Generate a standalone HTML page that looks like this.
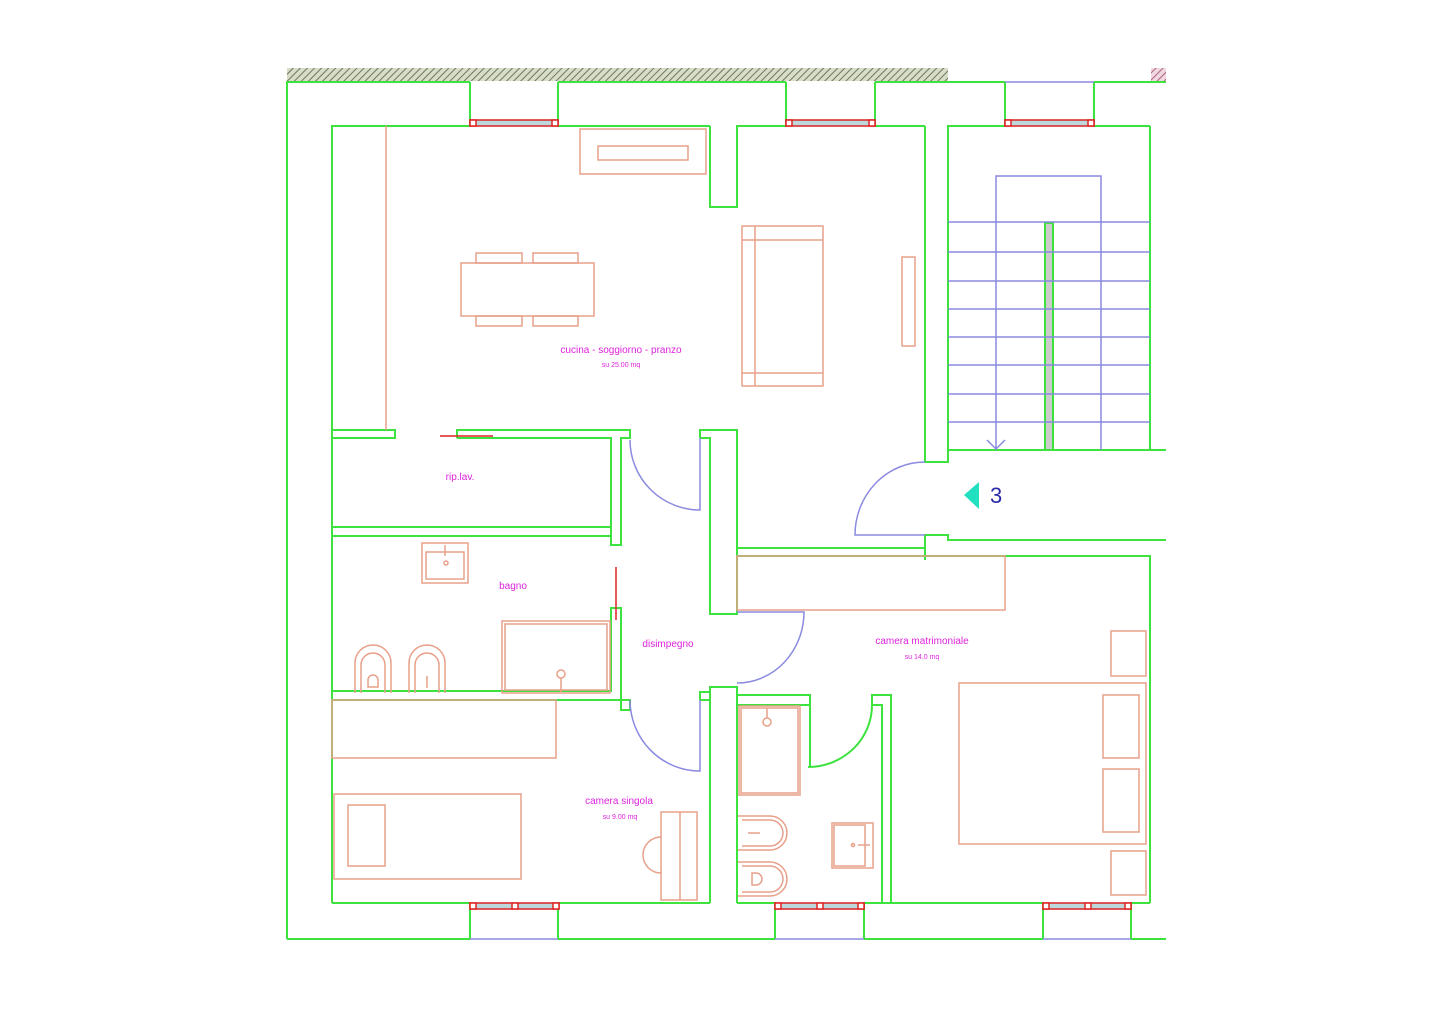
<!DOCTYPE html>
<html><head><meta charset="utf-8"><style>
html,body{margin:0;padding:0;background:#fff;}
svg{display:block;}
text{font-family:"Liberation Sans",sans-serif;}
</style></head><body>
<svg width="1440" height="1018" viewBox="0 0 1440 1018" xmlns="http://www.w3.org/2000/svg">
<defs>
<pattern id="h" width="5" height="5" patternUnits="userSpaceOnUse" patternTransform="rotate(45)">
<rect width="5" height="5" fill="#d8dcc8"/><line x1="0" y1="0" x2="0" y2="5" stroke="#6a7a5a" stroke-width="2"/></pattern>
<pattern id="h2" width="5" height="5" patternUnits="userSpaceOnUse" patternTransform="rotate(45)">
<rect width="5" height="5" fill="#f0d8e0"/><line x1="0" y1="0" x2="0" y2="5" stroke="#b06080" stroke-width="2"/></pattern>
</defs>
<rect width="1440" height="1018" fill="#fff"/>
<!-- hatch -->
<rect x="287" y="68" width="661" height="13" fill="url(#h)"/>
<rect x="1151" y="68" width="15" height="13" fill="url(#h2)"/>

<g fill="none" stroke="#3ee23e" stroke-width="2">
<!-- outer -->
<polyline points="287,939 287,82 470,82"/>
<polyline points="558,82 786,82"/>
<polyline points="875,82 1005,82"/>
<polyline points="1094,82 1166,82"/>
<line x1="287" y1="939" x2="470" y2="939"/>
<line x1="558" y1="939" x2="775" y2="939"/>
<line x1="864" y1="939" x2="1043" y2="939"/>
<line x1="1131" y1="939" x2="1166" y2="939"/>
<!-- window reveals top -->
<line x1="470" y1="82" x2="470" y2="126"/><line x1="558" y1="82" x2="558" y2="126"/>
<line x1="786" y1="82" x2="786" y2="126"/><line x1="875" y1="82" x2="875" y2="126"/>
<line x1="1005" y1="82" x2="1005" y2="126"/><line x1="1094" y1="82" x2="1094" y2="126"/>
<!-- window reveals bottom -->
<line x1="470" y1="903" x2="470" y2="939"/><line x1="558" y1="903" x2="558" y2="939"/>
<line x1="775" y1="903" x2="775" y2="939"/><line x1="864" y1="903" x2="864" y2="939"/>
<line x1="1043" y1="903" x2="1043" y2="939"/><line x1="1131" y1="903" x2="1131" y2="939"/>
<!-- inner top -->
<polyline points="332,903 332,126 470,126"/>
<line x1="558" y1="126" x2="710" y2="126"/>
<polyline points="710,126 710,207 737,207 737,126 786,126"/>
<line x1="875" y1="126" x2="925" y2="126"/>
<polyline points="925,126 925,462 948,462 948,126 1005,126"/>
<line x1="1094" y1="126" x2="1150" y2="126"/>
<polyline points="1150,126 1150,450 1166,450"/>
<line x1="948" y1="450" x2="1150" y2="450"/>
<!-- corridor -->
<polyline points="925,560 925,535 948,535 948,540 1166,540"/>
<line x1="737" y1="548" x2="925" y2="548"/>
<polyline points="737,556 1150,556 1150,903"/>
<!-- rip lav -->
<polyline points="332,430 395,430 395,438 332,438"/>
<polyline points="457,438 457,430 630,430 630,438 621,438 621,545 611,545 611,438 457,438"/>
<line x1="332" y1="527" x2="611" y2="527"/>
<line x1="332" y1="536" x2="611" y2="536"/>
<!-- bath -->
<polyline points="621,700 621,608 611,608 611,691 332,691"/>
<polyline points="332,700 630,700 630,710 621,710 621,700"/>
<!-- center wall -->
<polyline points="700,438 700,430 737,430 737,614 710,614 710,438 700,438"/>
<polyline points="700,700 700,692 710,692 710,687 737,687 737,903"/>
<line x1="710" y1="687" x2="710" y2="903"/>
<line x1="700" y1="700" x2="710" y2="700"/>
<!-- bath2 -->
<polyline points="737,695 810,695 810,767"/>
<line x1="737" y1="705" x2="810" y2="705"/>
<polyline points="872,705 872,695 891,695 891,903"/>
<polyline points="872,705 882,705 882,903"/>
<path d="M808,767 A64,62 0 0 0 872,705"/>
<!-- bottom inner -->
<line x1="332" y1="903" x2="470" y2="903"/>
<line x1="558" y1="903" x2="710" y2="903"/>
<line x1="737" y1="903" x2="775" y2="903"/>
<line x1="864" y1="903" x2="1043" y2="903"/>
<line x1="1131" y1="903" x2="1150" y2="903"/>
<!-- rail -->
<rect x="1045" y="223" width="8" height="227" fill="#cccccc"/>
</g>

<!-- windows -->
<g stroke="#dd2222" stroke-width="1.5" fill="none">
<rect x="470" y="120" width="88" height="6" fill="#bcd8dc"/><rect x="470" y="120" width="6" height="6" fill="#fff"/><rect x="552" y="120" width="6" height="6" fill="#fff"/>
<rect x="786" y="120" width="89" height="6" fill="#bcd8dc"/><rect x="786" y="120" width="6" height="6" fill="#fff"/><rect x="869" y="120" width="6" height="6" fill="#fff"/>
<rect x="1005" y="120" width="89" height="6" fill="#bcd8dc"/><rect x="1005" y="120" width="6" height="6" fill="#fff"/><rect x="1088" y="120" width="6" height="6" fill="#fff"/>
<rect x="470" y="903" width="89" height="6" fill="#bcd8dc"/><rect x="470" y="903" width="6" height="6" fill="#fff"/><rect x="512" y="903" width="6" height="6" fill="#fff"/><rect x="553" y="903" width="6" height="6" fill="#fff"/>
<rect x="775" y="903" width="89" height="6" fill="#bcd8dc"/><rect x="775" y="903" width="6" height="6" fill="#fff"/><rect x="817" y="903" width="6" height="6" fill="#fff"/><rect x="858" y="903" width="6" height="6" fill="#fff"/>
<rect x="1043" y="903" width="88" height="6" fill="#bcd8dc"/><rect x="1043" y="903" width="6" height="6" fill="#fff"/><rect x="1085" y="903" width="6" height="6" fill="#fff"/><rect x="1125" y="903" width="6" height="6" fill="#fff"/>
<line x1="440" y1="436" x2="493" y2="436"/>
<line x1="616" y1="567" x2="616" y2="620"/>
</g>

<!-- purple -->
<g stroke="#8a8ae0" stroke-width="1.5" fill="none">
<line x1="1005" y1="82" x2="1094" y2="82"/>
<line x1="470" y1="939" x2="558" y2="939"/>
<line x1="775" y1="939" x2="864" y2="939"/>
<line x1="1043" y1="939" x2="1131" y2="939"/>
<polyline points="996,450 996,176 1101,176 1101,450"/>
<line x1="948" y1="222" x2="1150" y2="222"/>
<line x1="948" y1="252" x2="1150" y2="252"/>
<line x1="948" y1="281" x2="1150" y2="281"/>
<line x1="948" y1="309" x2="1150" y2="309"/>
<line x1="948" y1="337" x2="1150" y2="337"/>
<line x1="948" y1="365" x2="1150" y2="365"/>
<line x1="948" y1="394" x2="1150" y2="394"/>
<line x1="948" y1="422" x2="1150" y2="422"/>
<polyline points="987,440 996,449 1005,440"/>
<!-- doors -->
<path d="M630,440 A70,70 0 0 0 700,510 L700,438"/>
<path d="M630,700 A70,71 0 0 0 700,771 L700,700"/>
<path d="M737,683 A67,71 0 0 0 804,612 L737,612"/>
<path d="M925,462 A70,73 0 0 0 855,535 L925,535"/>
</g>

<!-- furniture -->
<g stroke="#e8a08a" stroke-width="1.5" fill="none">
<line x1="386" y1="126" x2="386" y2="430"/>
<rect x="580" y="129" width="126" height="45"/>
<rect x="598" y="146" width="90" height="14"/>
<rect x="461" y="263" width="133" height="53"/>
<rect x="476" y="253" width="46" height="10"/><rect x="533" y="253" width="45" height="10"/>
<rect x="476" y="316" width="46" height="10"/><rect x="533" y="316" width="45" height="10"/>
<rect x="742" y="226" width="81" height="160"/>
<line x1="755" y1="226" x2="755" y2="386"/>
<line x1="742" y1="240" x2="823" y2="240"/><line x1="742" y1="373" x2="823" y2="373"/>
<rect x="902" y="257" width="13" height="89"/>
<!-- bath -->
<rect x="422" y="543" width="46" height="40"/><rect x="426" y="552" width="38" height="27"/>
<line x1="445" y1="545" x2="445" y2="556"/><circle cx="446" cy="563" r="2"/>
<rect x="502" y="621" width="108" height="72"/><rect x="505" y="624" width="102" height="66"/>
<circle cx="561" cy="674" r="4"/><line x1="561" y1="678" x2="561" y2="692"/>
<path d="M355,693 L355,663 A18,18 0 0 1 391,663 L391,693"/>
<path d="M361,693 L361,665 A12,12 0 0 1 385,665 L385,693"/>
<path d="M368,687 L368,680 A5,5 0 0 1 378,680 L378,687 Z"/>
<path d="M409,693 L409,663 A18,18 0 0 1 445,663 L445,693"/>
<path d="M415,693 L415,665 A12,12 0 0 1 439,665 L439,693"/>
<line x1="427" y1="676" x2="427" y2="688"/>
<!-- singola -->
<rect x="332" y="700" width="224" height="58"/>
<rect x="334" y="794" width="187" height="85"/>
<rect x="348" y="805" width="37" height="61"/>
<rect x="661" y="812" width="36" height="88"/>
<line x1="680" y1="812" x2="680" y2="900"/>
<path d="M661,837 A18,18 0 0 0 661,873"/>
<!-- matrimoniale -->
<rect x="737" y="556" width="268" height="54"/>
<rect x="1111" y="631" width="35" height="45"/>
<rect x="959" y="683" width="187" height="161"/>
<rect x="1103" y="695" width="36" height="63"/>
<rect x="1103" y="769" width="36" height="63"/>
<rect x="1111" y="851" width="35" height="44"/>
<!-- bath2 -->
<rect x="739" y="706" width="61" height="89"/><rect x="741" y="708" width="57" height="85"/>
<circle cx="767" cy="722" r="4"/><line x1="767" y1="708" x2="767" y2="718"/>
<path d="M738,816 L770,816 A17,17 0 0 1 770,850 L738,850"/>
<path d="M742,820 L770,820 A13,13 0 0 1 770,846 L742,846"/>
<line x1="748" y1="833" x2="760" y2="833"/>
<path d="M738,862 L770,862 A17,17 0 0 1 770,896 L738,896"/>
<path d="M742,866 L770,866 A13,13 0 0 1 770,892 L742,892"/>
<path d="M752,873 L752,885 L756,885 A6,6 0 0 0 756,873 Z"/>
<rect x="832" y="823" width="41" height="45"/><rect x="834" y="825" width="31" height="41"/>
<line x1="858" y1="845" x2="870" y2="845"/><circle cx="853" cy="845" r="1.5"/>
</g>

<!-- labels -->
<g fill="#dd22dd" text-anchor="middle">
<text x="621" y="353" font-size="10">cucina - soggiorno - pranzo</text>
<text x="621" y="367" font-size="7">su 25.00 mq</text>
<text x="460" y="480" font-size="10">rip.lav.</text>
<text x="513" y="589" font-size="10">bagno</text>
<text x="668" y="647" font-size="10">disimpegno</text>
<text x="619" y="804" font-size="10">camera singola</text>
<text x="620" y="819" font-size="7">su 9.00 mq</text>
<text x="922" y="644" font-size="10">camera matrimoniale</text>
<text x="922" y="659" font-size="7">su 14.0 mq</text>
</g>
<polygon points="964,495 979,482 979,509" fill="#20e0c0"/>
<text x="990" y="503" font-size="22" fill="#2a2aa8">3</text>
</svg>
</body></html>
